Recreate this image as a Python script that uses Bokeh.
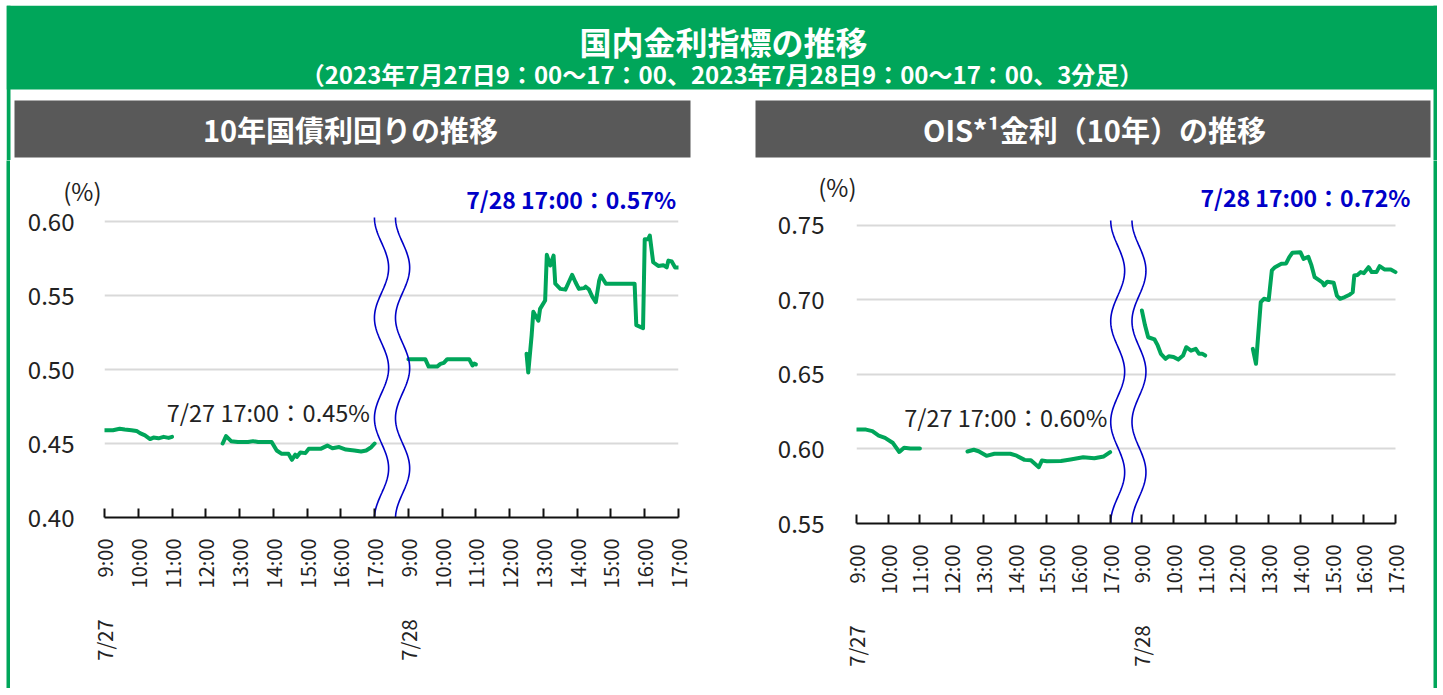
import math
from bokeh.plotting import figure
from bokeh.layouts import column, row
from bokeh.models import Range1d, FixedTicker, LinearAxis, Label, NumeralTickFormatter, Spacer, Grid
from bokeh.embed import file_html
from bokeh.resources import INLINE

FONT = "Noto Sans CJK JP"
GREEN = "#00A65A"
LINE_GREEN = "#00A55A"
GRAY = "#595959"
BLUE = "#0000C8"
TEXT = "#222222"

# ---------------- texts ----------------
title_text = "国内金利指標の推移"
subtitle_text = "（2023年7月27日9：00～17：00、2023年7月28日9：00～17：00、3分足）"
panel_titles = ["10年国債利回りの推移", "OIS*¹金利（10年）の推移"]
hour_labels = ["9:00", "10:00", "11:00", "12:00", "13:00", "14:00", "15:00", "16:00", "17:00"]
date_labels = ["7/27", "7/28"]
unit_label = "(%)"
jgb_close_labels = ["7/27 17:00：0.45%", "7/28 17:00：0.57%"]
ois_close_labels = ["7/27 17:00：0.60%", "7/28 17:00：0.72%"]
jgb_yticks = [0.40, 0.45, 0.50, 0.55, 0.60]
ois_yticks = [0.55, 0.60, 0.65, 0.70, 0.75]

# ---------------- data: 10y JGB yield (%) ----------------
jgb_d1_am_t = ["9:00", "9:15", "9:27", "9:36", "9:48", "9:57", "10:03", "10:12", "10:21", "10:27",
               "10:36", "10:45", "10:54", "11:00"]
jgb_d1_am_v = [0.459, 0.459, 0.460, 0.4595, 0.459, 0.4585, 0.457, 0.4555, 0.453, 0.454,
               0.4535, 0.4545, 0.4538, 0.4545]
jgb_d1_pm_t = ["12:30", "12:36", "12:45", "12:57", "13:15", "13:24", "13:33", "13:57", "14:06", "14:15",
               "14:27", "14:33", "14:39", "14:42", "14:48", "14:57", "15:03", "15:24", "15:36", "15:45",
               "15:57", "16:09", "16:24", "16:36", "16:45", "16:54", "17:00"]
jgb_d1_pm_v = [0.450, 0.455, 0.4516, 0.451, 0.451, 0.4516, 0.451, 0.451, 0.4453, 0.443,
               0.443, 0.439, 0.4425, 0.441, 0.4439, 0.4435, 0.4464, 0.4464, 0.4486, 0.4468,
               0.4476, 0.4459, 0.4453, 0.4446, 0.4453, 0.4475, 0.450]
jgb_d2_am_t = ["9:00", "9:30", "9:36", "9:51", "9:57", "10:03", "10:09", "10:48", "10:54", "10:57", "11:00"]
jgb_d2_am_v = [0.507, 0.507, 0.502, 0.502, 0.5038, 0.5045, 0.507, 0.507, 0.5027, 0.504, 0.5035]
jgb_d2_pm_t = ["12:30", "12:33", "12:39", "12:42", "12:51", "12:54", "13:03", "13:06", "13:12", "13:18",
               "13:21", "13:30", "13:39", "13:45", "13:51", "13:57", "14:03", "14:12", "14:15", "14:21",
               "14:27", "14:33", "14:39", "14:42", "14:51", "15:42", "15:45", "15:57", "16:00", "16:06",
               "16:09", "16:15", "16:24", "16:33", "16:39", "16:42", "16:48", "16:54", "17:00"]
jgb_d2_pm_v = [0.5106, 0.498, 0.523, 0.539, 0.533, 0.541, 0.5466, 0.5775, 0.5703, 0.577,
               0.558, 0.5545, 0.554, 0.559, 0.564, 0.559, 0.5545, 0.555, 0.556, 0.554,
               0.549, 0.5455, 0.560, 0.5635, 0.558, 0.558, 0.530, 0.528, 0.588, 0.588,
               0.5905, 0.5725, 0.570, 0.5705, 0.569, 0.5736, 0.573, 0.569, 0.5689]

# ---------------- data: OIS 10y (%) ----------------
ois_d1_am_t = ["9:00", "9:18", "9:30", "9:42", "9:54", "10:09", "10:21", "10:30", "10:42", "11:00"]
ois_d1_am_v = [0.613, 0.613, 0.612, 0.609, 0.6075, 0.604, 0.598, 0.6008, 0.6004, 0.6004]
ois_d1_pm_t = ["12:30", "12:42", "12:51", "13:06", "13:21", "13:51", "14:03", "14:18", "14:30", "14:45",
               "14:51", "15:00", "15:27", "15:45", "16:09", "16:30", "16:48", "17:00"]
ois_d1_pm_v = [0.5983, 0.5995, 0.5985, 0.5954, 0.5968, 0.5968, 0.5955, 0.5927, 0.5925, 0.5878,
               0.5923, 0.5918, 0.592, 0.593, 0.5945, 0.5938, 0.595, 0.5979]
ois_d2_am_t = ["9:00", "9:06", "9:12", "9:24", "9:30", "9:36", "9:45", "9:51", "10:00", "10:09",
               "10:18", "10:24", "10:33", "10:42", "10:48", "10:54", "11:00"]
ois_d2_am_v = [0.693, 0.683, 0.675, 0.6735, 0.6695, 0.6639, 0.6605, 0.6623, 0.6618, 0.660,
               0.6627, 0.6683, 0.666, 0.6672, 0.664, 0.664, 0.6627]
ois_d2_pm_t = ["12:30", "12:36", "12:45", "12:51", "13:00", "13:06", "13:12", "13:24", "13:33", "13:39",
               "13:45", "14:00", "14:06", "14:15", "14:21", "14:27", "14:36", "14:42", "14:45", "14:51",
               "15:03", "15:09", "15:15", "15:24", "15:33", "15:39", "15:42", "15:48", "15:54", "16:00",
               "16:09", "16:15", "16:24", "16:30", "16:39", "16:51", "17:00"]
ois_d2_pm_v = [0.6672, 0.6572, 0.6985, 0.7008, 0.700, 0.7198, 0.722, 0.7243, 0.7245, 0.7288,
               0.7317, 0.7321, 0.7276, 0.729, 0.7232, 0.7153, 0.7131, 0.7116, 0.7098, 0.7123,
               0.7116, 0.703, 0.7008, 0.702, 0.7035, 0.7052, 0.7164, 0.7168, 0.7187, 0.718,
               0.722, 0.7187, 0.7187, 0.7227, 0.7205, 0.7205, 0.7187]

HAS_CROSS_BOUNDS = "cross_bounds" in Grid.properties()


def tx(t, day):
    h, m = t.split(":")
    return int(h) + int(m) / 60.0 - 9 + 9 * day


def blank(width, height, color="white"):
    f = figure(width=width, height=height, x_range=Range1d(0, width), y_range=Range1d(0, height),
               x_axis_type=None, y_axis_type=None, toolbar_location=None, output_backend="svg",
               min_border=0, outline_line_color=None)
    f.background_fill_color = color
    f.border_fill_color = color
    f.grid.visible = False
    return f


def lab(x, y, text, size, align="center", color=TEXT, bold=False):
    return Label(x=x, y=y, text=text, text_align=align, text_baseline="middle",
                 text_color=color, text_font=FONT, text_font_size=size,
                 text_font_style="bold" if bold else "normal")


def plain_axis(ax):
    ax.axis_line_color = None
    ax.major_tick_line_color = None
    ax.minor_tick_line_color = None
    ax.major_label_text_font = FONT
    ax.major_label_text_color = TEXT
    return ax


def chart(width, height, bl, br, bt, bb, xend, yr, yticks, unit_y, unit_standoff, num_standoff,
          segments, wave, labels):
    p = figure(width=width, height=height, x_range=Range1d(0, xend), y_range=Range1d(*yr),
               toolbar_location=None, output_backend="svg", min_border_left=bl,
               min_border_right=br, min_border_top=bt, min_border_bottom=bb,
               outline_line_color=None, x_axis_location=None, y_axis_location=None)
    p.background_fill_color = "white"
    p.border_fill_color = "white"
    # unit "(%)" as the innermost left axis label
    uax = plain_axis(LinearAxis(ticker=FixedTicker(ticks=[unit_y]),
                                major_label_overrides={unit_y: unit_label}))
    uax.major_tick_out = 0
    uax.major_tick_in = 0
    uax.major_label_standoff = unit_standoff
    uax.major_label_text_font_size = "24px"
    p.add_layout(uax, "left")
    # numeric y axis
    yax = plain_axis(LinearAxis(ticker=FixedTicker(ticks=yticks),
                                formatter=NumeralTickFormatter(format="0.00")))
    yax.major_tick_out = 0
    yax.major_tick_in = 0
    yax.major_label_standoff = num_standoff
    yax.major_label_text_font_size = "24px"
    p.add_layout(yax, "left")
    # x axis (hours)
    xticks = list(range(18))
    overrides = {i: (hour_labels[i] if i < 9 else hour_labels[i - 9]) for i in xticks}
    xax = LinearAxis(ticker=FixedTicker(ticks=xticks), major_label_overrides=overrides,
                     bounds=(0, 17))
    xax.axis_line_color = "#111111"
    xax.axis_line_width = 2
    xax.major_tick_line_color = "#111111"
    xax.major_tick_line_width = 2
    xax.major_tick_in = 9
    xax.major_tick_out = 0
    xax.minor_tick_line_color = None
    xax.major_label_orientation = math.pi / 2
    xax.major_label_standoff = 21
    xax.major_label_text_font = FONT
    xax.major_label_text_font_size = "20px"
    xax.major_label_text_color = TEXT
    p.add_layout(xax, "below")
    # date axis
    dax = plain_axis(LinearAxis(ticker=FixedTicker(ticks=[0, 9]),
                                major_label_overrides={0: date_labels[0], 9: date_labels[1]}))
    dax.major_label_orientation = math.pi / 2
    dax.major_label_standoff = 22
    dax.major_label_text_font_size = "20px"
    p.add_layout(dax, "below")
    # grid
    p.ygrid.ticker = FixedTicker(ticks=yticks)
    p.ygrid.grid_line_color = "#D9D9D9"
    p.ygrid.grid_line_width = 2
    if HAS_CROSS_BOUNDS:
        p.ygrid.cross_bounds = (0, 17)
    p.xgrid.visible = False
    # data
    for (ts, vs, day) in segments:
        p.line([tx(t, day) for t in ts], vs, line_color=LINE_GREEN, line_width=4,
               line_join="round", line_cap="round")
    # wavy break marks
    v_top, v_bot, period, amp, centers = wave
    n = 240
    ys = [v_top - (v_top - v_bot) * i / (n - 1) for i in range(n)]
    for c in centers:
        xs = [c - amp * math.cos(2 * math.pi * (v_top - y) / period) for y in ys]
        p.line(xs, ys, line_color=BLUE, line_width=1.6)
    for lb in labels:
        p.add_layout(lb)
    return p


# ---------------- layout sizes (page origin offset 6,5) ----------------
MAIN_W = 1431
TOP_H = 155
CHART_H = 528
LEFT_W = 712
RIGHT_W = 711

top = blank(MAIN_W, TOP_H)
# green title band and side borders
top.quad(left=0, right=MAIN_W, bottom=71, top=TOP_H, fill_color=GREEN, line_color=None)
top.quad(left=[0, MAIN_W - 4], right=[4, MAIN_W], bottom=0, top=TOP_H, fill_color=GREEN, line_color=None)
# gray panel headers
top.quad(left=[8, 749], right=[684, 1424], bottom=3, top=60, fill_color=GRAY, line_color=None)
top.add_layout(lab(717, 120, title_text, "32px", color="white", bold=True))
top.add_layout(lab(715.5, 87, subtitle_text, "24px", color="white", bold=True))
top.add_layout(lab(344, 32, panel_titles[0], "29px", color="white", bold=True))
top.add_layout(lab(1088, 32, panel_titles[1], "29px", color="white", bold=True))

left_chart = chart(LEFT_W, CHART_H, 94, 44, 10, 171, 17, (0.40, 0.6345), jgb_yticks, 0.6209, 3, -14,
                   [(jgb_d1_am_t, jgb_d1_am_v, 0), (jgb_d1_pm_t, jgb_d1_pm_v, 0),
                    (jgb_d2_am_t, jgb_d2_am_v, 1), (jgb_d2_pm_t, jgb_d2_pm_v, 1)],
                   (0.6027, 0.396, 0.0678, 0.21, [8.205, 8.828]),
                   [lab(7.86, 0.4716, jgb_close_labels[0], "23.5px", align="right"),
                    lab(16.93, 0.6155, jgb_close_labels[1], "23px", align="right", color=BLUE, bold=True)])

if HAS_CROSS_BOUNDS:
    r_br, r_xend, r_lab_x = 22, 17.0 * 555 / 539, 17.47
else:
    r_br, r_xend, r_lab_x = 38, 17, 16.97
right_chart = chart(RIGHT_W, CHART_H, 134, r_br, 10, 165, r_xend, (0.55, 0.7869), ois_yticks, 0.7762, 0, -9,
                    [(ois_d1_am_t, ois_d1_am_v, 0), (ois_d1_pm_t, ois_d1_pm_v, 0),
                     (ois_d2_am_t, ois_d2_am_v, 1), (ois_d2_pm_t, ois_d2_pm_v, 1)],
                    (0.7534, 0.547, 0.0676, 0.22, [8.238, 8.909]),
                    [lab(7.91, 0.6218, ois_close_labels[0], "23.5px", align="right"),
                     lab(r_lab_x, 0.7688, ois_close_labels[1], "23px", align="right", color=BLUE, bold=True)])

left_strip = blank(4, CHART_H, GREEN)
right_strip = blank(4, CHART_H, GREEN)
bottom_strip = blank(MAIN_W, 4, GREEN)

main = column(
    top,
    row(left_strip, column(left_chart), column(right_chart), right_strip, spacing=0),
    bottom_strip,
    spacing=0,
)

layout = column(Spacer(width=MAIN_W + 6, height=5),
                row(Spacer(width=6, height=TOP_H + CHART_H + 4), main, spacing=0),
                spacing=0)

open("out.html", "w").write(file_html(layout, INLINE))
